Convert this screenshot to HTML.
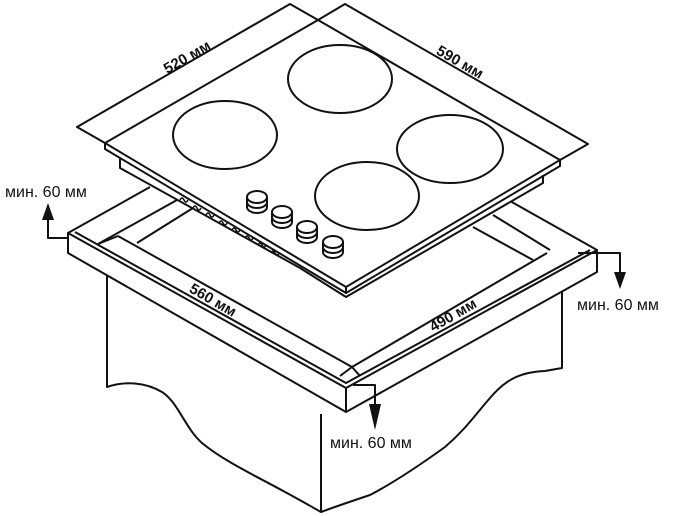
<!DOCTYPE html>
<html><head><meta charset="utf-8"><style>
html,body{margin:0;padding:0;background:#fff;}
svg{display:block}
text{font-family:"Liberation Sans",sans-serif;fill:#111}
</style></head><body>
<svg width="675" height="516" viewBox="0 0 675 516" xmlns="http://www.w3.org/2000/svg">
<g fill="none" stroke="#111" stroke-width="2" stroke-linejoin="round">
<!-- cabinet -->
<path d="M107,262 L107,387 C125,381 145,382 162,392 C178,402 185,428 202,443 C225,462 260,478 285,492 C300,500 312,507 321,512 L321,414"/>
<path d="M321,512 C340,505 355,500 370,495 C395,482 420,465 445,447 C465,430 475,415 490,398 C505,380 520,372 545,371 L562,368 L562,278"/>
<!-- countertop -->
<path d="M68,233 L68,253 L346,412 L597,272 L597,250 L346,388 Z" fill="#fff"/>
<line x1="346" y1="388" x2="346" y2="412"/>
<path d="M68,233 L150,187"/>
<path d="M597,250 L510,201"/>
<path d="M75,232 L346,383 L590,250"/>
<path d="M118,236 L352,367 L547,253"/>
<path d="M98,244 L177,200"/>
<path d="M98,244 L118,236"/>
<path d="M137,243 L193,208"/>
<path d="M473,227 L533,260"/>
<path d="M493,215 L550,250"/>
<path d="M352,367 L360,376 M340,376 L352,367"/>
<!-- top dimension frames -->
<path d="M105,143 L77,127 L290,4 L318,20"/>
<path d="M318,20 L345,4 L588,144 L560,160"/>
<!-- hob underside body -->
<path d="M120,158 L120,168 L300,268 L346,297 L543,183 L543,175" fill="#fff"/>
<!-- hob top -->
<path d="M105,143 L318,20 L560,160 L346,287 Z" fill="#fff"/>
<path d="M105,143 L105,149 L346,293 L560,166 L560,160"/>
<path d="M346,287 L346,293"/>
<!-- notches -->
<path d="M180,200 q2,-4 4,0 q2,4 4,0 M193,208 q2,-4 4,0 q2,4 4,0 M206,215 q2,-4 4,0 q2,4 4,0 M219,223 q2,-4 4,0 q2,4 4,0 M232,230 q2,-4 4,0 q2,4 4,0 M245,238 q2,-4 4,0 q2,4 4,0 M258,245 q2,-4 4,0 q2,4 4,0 M271,253 q2,-4 4,0 q2,4 4,0" stroke-width="1.5"/>
<!-- burners -->
<ellipse cx="225" cy="135" rx="52" ry="34"/>
<ellipse cx="340" cy="79" rx="52" ry="34"/>
<ellipse cx="450" cy="149" rx="53" ry="34"/>
<ellipse cx="367" cy="196" rx="52" ry="34"/>
<!-- knobs -->
<g id="k">
<path d="M247,197 L247,207 A10,6 0 0 0 267,207 L267,197" fill="#fff"/>
<ellipse cx="257" cy="197" rx="10" ry="6" fill="#fff"/>
<path d="M247,202 A10,6 0 0 0 267,202"/>
</g>
<use href="#k" x="25" y="15"/>
<use href="#k" x="50" y="30"/>
<use href="#k" x="76" y="45"/>
<!-- arrows -->
<path d="M67,238 L48,238 L48,218"/>
<path d="M578,253 L620,253 L620,272"/>
<path d="M353,385 L375,385 L375,404"/>
</g>
<g fill="#111">
<polygon points="48,203 42,220 54,220"/>
<polygon points="620,289 614,272 626,272"/>
<polygon points="375,430 369,404 381,404"/>
</g>
<text x="5" y="197" font-size="16">мин. 60 мм</text>
<text x="577" y="310" font-size="16">мин. 60 мм</text>
<text x="330" y="448" font-size="16">мин. 60 мм</text>
<g font-size="15" font-weight="bold">
<text x="187" y="62" text-anchor="middle" transform="rotate(-30 187 57)">520 мм</text>
<text x="460" y="67" text-anchor="middle" transform="rotate(30 460 62)">590 мм</text>
<text x="213" y="305" text-anchor="middle" transform="rotate(30 213 300)">560 мм</text>
<text x="453" y="320" text-anchor="middle" transform="rotate(-30 453 315)">490 мм</text>
</g>
</svg>
</body></html>
